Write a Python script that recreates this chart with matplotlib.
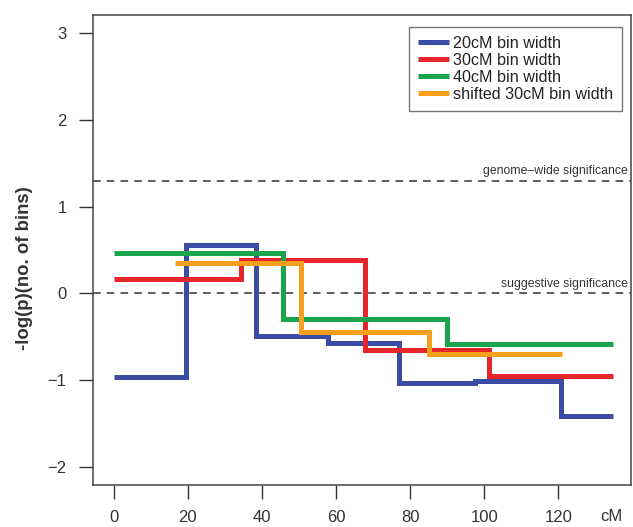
import matplotlib
matplotlib.use("Agg")
import matplotlib.pyplot as plt

# ---- data ----
blue_edges = [0, 19.6, 38.5, 57.8, 77.0, 97.4, 120.8, 134.7]
blue_vals = [-0.97, 0.56, -0.49, -0.57, -1.04, -1.01, -1.42]

red_edges = [0, 34.4, 67.7, 101.3, 134.7]
red_vals = [0.17, 0.38, -0.65, -0.95]

green_edges = [0, 45.7, 89.8, 134.7]
green_vals = [0.47, -0.30, -0.58]

orange_edges = [16.4, 50.6, 85.1, 121.1]
orange_vals = [0.35, -0.45, -0.70]

labels = ["20cM bin width", "30cM bin width", "40cM bin width", "shifted 30cM bin width"]
colors = ["#3A4CA4", "#E4262B", "#1AA44B", "#F8A01E"]

genome_wide = 1.3
suggestive = 0.0

x_ticks = [0, 20, 40, 60, 80, 100, 120]
y_ticks = [-2, -1, 0, 1, 2, 3]

plt.rcParams['font.family'] = ['Liberation Sans', 'DejaVu Sans']

fig = plt.figure(figsize=(6.33, 5.27), dpi=100)
ax = fig.add_axes([0.147, 0.080, 0.8493, 0.8915])

series = [(blue_edges, blue_vals), (red_edges, red_vals),
          (green_edges, green_vals), (orange_edges, orange_vals)]
for (edges, vals), c, lab in zip(series, colors, labels):
    ax.step(edges, list(vals) + [vals[-1]], where='post', color=c, lw=3.6,
            label=lab, solid_capstyle='butt', solid_joinstyle='miter')

dash_kw = dict(color='#333333', lw=1.1, dashes=(5, 4), zorder=1)
ax.axhline(genome_wide, **dash_kw)
ax.axhline(suggestive, **dash_kw)
ax.text(0.995, genome_wide + 0.04, "genome\u2013wide significance", transform=ax.get_yaxis_transform(),
        ha='right', va='bottom', fontsize=8.8, color='#333333')
ax.text(0.995, suggestive + 0.04, "suggestive significance", transform=ax.get_yaxis_transform(),
        ha='right', va='bottom', fontsize=8.8, color='#333333')

ax.set_xlim(-5.6, 139.5)
ax.set_ylim(-2.21, 3.21)
ax.set_xticks(x_ticks)
ax.set_yticks(y_ticks)
ax.set_yticklabels([str(v).replace('-', '\u2212') for v in y_ticks])
ax.tick_params(axis='both', direction='out', length=10, width=1, color='#333333',
               labelsize=12, labelcolor='#333333')
ax.tick_params(axis='x', pad=8)
ax.tick_params(axis='y', pad=9)
for s in ax.spines.values():
    s.set_color('#444444')
    s.set_linewidth(1.1)

ax.set_ylabel("-log(p)(no. of bins)", fontsize=13.4, fontweight='bold', color='#333333')
ax.yaxis.set_label_coords(-0.112, 0.462)
ax.text(0.984, -0.068, "cM", transform=ax.transAxes, ha='right', va='center', fontsize=12, color='#333333')

leg = ax.legend(loc='upper right', bbox_to_anchor=(0.983, 0.974), borderaxespad=0,
                fontsize=11.6, handlelength=1.9, handletextpad=0.25, labelspacing=0.12,
                fancybox=False, frameon=True, borderpad=0.55)
leg.get_frame().set_edgecolor('#555555')
leg.get_frame().set_linewidth(1.0)
for t in leg.get_texts():
    t.set_color('#222222')

fig.savefig("out.png", dpi=100)
